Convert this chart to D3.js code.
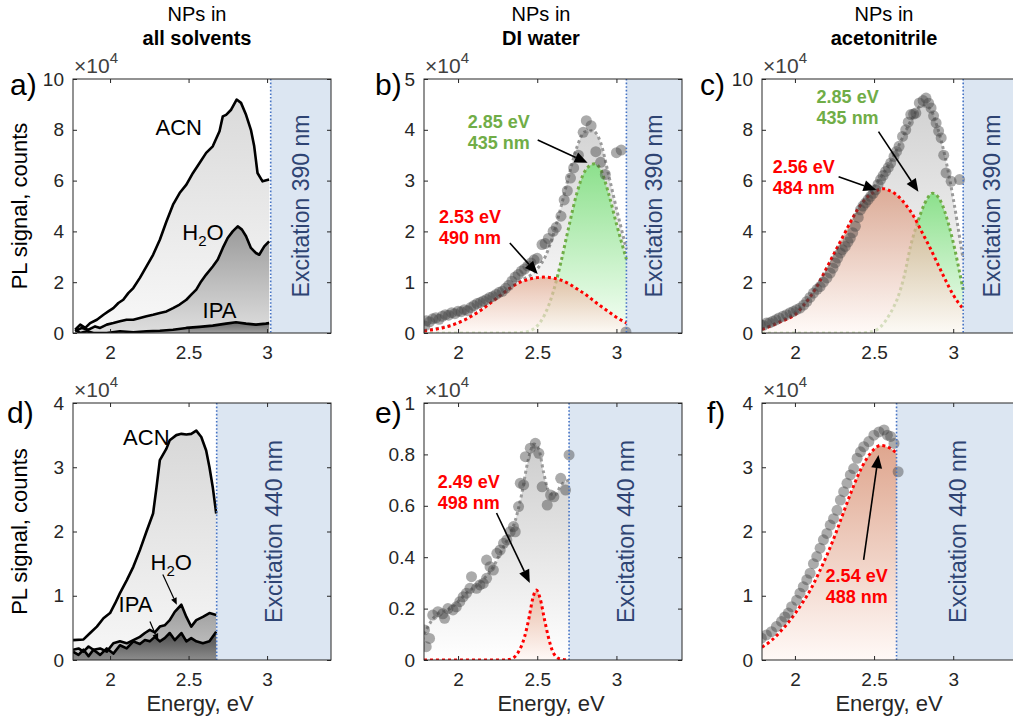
<!DOCTYPE html>
<html>
<head>
<meta charset="utf-8">
<script src="https://cdn.jsdelivr.net/npm/d3@7"></script>
<style>
  body { margin: 0; background: #fff; }
  text { font-family: "Liberation Sans", Arial, Helvetica, sans-serif; }
</style>
</head>
<body>
<script>
// PL spectra of NPs, 6 panels (a-f). Values in units of 1e4 counts.

// ---- panel a: all solvents, excitation 390 nm ----
const aAcnE = [1.778,1.81,1.842,1.873,1.916,1.958,1.989,2.021,2.053,2.084,2.116,2.148,2.19,2.232,2.274,2.317,2.359,2.401,2.443,2.486,2.528,2.57,2.612,2.654,2.697,2.718,2.739,2.771,2.806,2.834,2.866,2.897,2.918,2.939,2.971,3.013];
const aAcn  = [0.13,0.33,0.2,0.39,0.52,0.72,0.85,0.98,1.18,1.31,1.57,1.77,2.17,2.62,3.08,3.67,4.39,5.05,5.51,5.84,6.3,6.69,7.09,7.35,7.94,8.53,8.59,8.79,9.19,9.06,8.59,8.0,7.35,6.3,5.97,6.04];
const aH2oE = [1.778,1.82,1.863,1.905,1.937,1.979,2.021,2.063,2.105,2.148,2.19,2.232,2.274,2.317,2.359,2.401,2.443,2.486,2.517,2.549,2.58,2.612,2.654,2.686,2.718,2.749,2.781,2.813,2.84,2.866,2.897,2.929,2.95,2.982,3.013];
const aH2o  = [0.08,0.2,0.13,0.26,0.2,0.33,0.39,0.46,0.52,0.52,0.59,0.66,0.72,0.79,0.85,0.98,1.12,1.31,1.51,1.71,2.03,2.3,2.62,2.89,3.35,3.74,4.0,4.2,4.07,3.81,3.35,3.15,3.08,3.41,3.61];
const aIpaE = [1.778,1.81,1.852,1.895,1.979,2.063,2.148,2.232,2.317,2.401,2.486,2.57,2.654,2.739,2.802,2.866,2.929,2.992,3.013];
const aIpa  = [0.13,0,0.07,0,0,0.07,0.03,0.07,0.09,0.13,0.2,0.24,0.29,0.37,0.42,0.37,0.33,0.37,0.39];

// ---- panel d: all solvents, excitation 440 nm ----
const dAcnE = [1.764,1.831,1.873,1.916,1.958,2.0,2.032,2.063,2.106,2.148,2.19,2.232,2.274,2.296,2.317,2.359,2.38,2.422,2.454,2.486,2.517,2.549,2.581,2.612,2.633,2.654,2.676];
const dAcn  = [0.31,0.32,0.42,0.52,0.65,0.73,0.88,1.04,1.24,1.45,1.71,2.0,2.28,2.69,3.11,3.29,3.42,3.5,3.52,3.51,3.52,3.57,3.47,3.26,3.0,2.69,2.28];
const dE    = [1.764,1.799,1.831,1.863,1.894,1.937,1.979,2.021,2.063,2.106,2.148,2.19,2.222,2.253,2.285,2.317,2.348,2.38,2.412,2.454,2.486,2.517,2.549,2.591,2.633,2.676];
const dH2o  = [0.16,0.18,0.13,0.21,0.16,0.18,0.13,0.26,0.29,0.26,0.31,0.36,0.42,0.47,0.43,0.52,0.54,0.62,0.75,0.86,0.67,0.52,0.62,0.67,0.73,0.70];
const dIpa  = [0.13,0.08,0.16,0.06,0.16,0.08,0.18,0.10,0.23,0.18,0.29,0.25,0.31,0.29,0.36,0.29,0.34,0.42,0.31,0.42,0.29,0.34,0.29,0.26,0.29,0.44];

// ---- panel b: DI water, 390 nm ----
const bDataE = [1.79,1.80,1.82,1.84,1.86,1.88,1.90,1.92,1.94,1.96,1.98,2.00,2.02,2.04,2.06,2.08,2.10,2.12,2.14,2.16,2.18,2.20,2.22,2.24,2.26,2.28,2.30,2.32,2.34,2.36,2.38,2.40,2.42,2.44,2.46,2.48,2.50,2.53,2.55,2.57,2.60,2.62,2.65,2.67,2.69,2.71,2.73,2.76,2.79,2.81,2.84,2.87,2.90,2.93,3.00,3.03,3.06];
const bDataV = [0.14,0.24,0.22,0.28,0.30,0.27,0.33,0.36,0.35,0.40,0.38,0.43,0.42,0.46,0.44,0.50,0.54,0.58,0.60,0.63,0.66,0.70,0.72,0.76,0.80,0.82,0.88,0.94,1.02,1.10,1.15,1.22,1.26,1.32,1.38,1.44,1.47,1.74,1.76,1.86,2.00,2.08,2.30,2.62,2.80,3.05,3.25,3.50,3.95,4.18,4.08,3.57,3.36,3.12,3.55,3.60,0.02];
const bSumE = [1.785,1.90,2.00,2.10,2.20,2.30,2.40,2.50,2.55,2.60,2.65,2.70,2.75,2.80,2.85,2.90,2.95,3.00,3.063];
const bSumV = [0.05,0.11,0.2,0.36,0.58,0.82,1.03,1.26,1.5,1.92,2.48,3.1,3.65,3.96,3.98,3.75,3.12,2.45,1.65];
const bRedE = [1.785,1.85,1.90,1.95,2.00,2.05,2.10,2.15,2.20,2.25,2.30,2.35,2.40,2.45,2.50,2.54,2.60,2.65,2.70,2.75,2.80,2.85,2.90,2.95,3.00,3.063];
const bRedV = [0.04,0.07,0.10,0.14,0.20,0.27,0.36,0.46,0.58,0.70,0.82,0.93,1.01,1.06,1.09,1.10,1.08,1.04,0.97,0.87,0.77,0.65,0.53,0.42,0.31,0.2];
const bGreenE = [1.785,2.30,2.40,2.45,2.50,2.55,2.60,2.65,2.70,2.75,2.80,2.86,2.90,2.95,3.00,3.063];
const bGreenV = [0,0,0.01,0.04,0.14,0.38,0.80,1.40,2.10,2.75,3.18,3.33,3.22,2.75,2.15,1.45];

// ---- panel c: acetonitrile, 390 nm ----
const cDataE = [1.78,1.80,1.82,1.84,1.86,1.88,1.90,1.925,1.947,1.97,1.99,2.01,2.032,2.055,2.075,2.095,2.117,2.14,2.159,2.18,2.202,2.223,2.24,2.255,2.27,2.287,2.30,2.318,2.335,2.35,2.365,2.382,2.40,2.414,2.43,2.446,2.462,2.478,2.495,2.51,2.525,2.541,2.557,2.573,2.59,2.605,2.626,2.642,2.658,2.68,2.70,2.716,2.732,2.75,2.764,2.786,2.81,2.828,2.845,2.86,2.876,2.892,2.908,2.924,2.94,2.955,2.987,3.04];
const cDataV = [0.33,0.30,0.39,0.40,0.46,0.52,0.59,0.66,0.72,0.80,0.85,0.92,0.98,1.10,1.24,1.40,1.57,1.72,1.83,2.0,2.17,2.36,2.55,2.76,2.95,3.15,3.28,3.41,3.58,3.74,3.95,4.2,4.55,4.85,5.0,5.12,5.25,5.38,5.5,5.64,5.85,6.04,6.2,6.36,6.52,6.69,6.95,7.15,7.35,7.74,8.0,8.3,8.6,8.62,8.66,9.06,9.15,9.25,9.05,8.86,8.55,8.27,7.95,7.68,7.0,6.3,5.97,6.04];
const cSumE = [1.792,1.90,2.00,2.10,2.20,2.30,2.40,2.50,2.55,2.60,2.65,2.70,2.75,2.80,2.85,2.90,2.95,3.00,3.05,3.063];
const cSumV = [0.15,0.45,0.8,1.45,2.55,3.75,4.9,5.75,6.2,6.7,7.3,7.95,8.55,8.95,8.85,8.1,6.9,5.3,3.4,2.9];
const cRedE = [1.792,1.85,1.90,1.95,2.00,2.05,2.10,2.15,2.20,2.25,2.30,2.35,2.40,2.45,2.50,2.56,2.60,2.65,2.70,2.75,2.80,2.85,2.90,2.95,3.00,3.063];
const cRedV = [0.14,0.28,0.42,0.55,0.72,1.05,1.45,1.95,2.55,3.15,3.75,4.35,4.9,5.3,5.55,5.68,5.6,5.4,5.05,4.6,4.0,3.4,2.75,2.1,1.5,0.95];
const cGreenE = [1.792,2.40,2.45,2.50,2.55,2.60,2.65,2.69,2.73,2.775,2.82,2.87,2.92,2.97,3.01,3.04,3.063];
const cGreenV = [0,0,0.02,0.08,0.3,0.75,1.4,2.23,3.4,4.35,5.1,5.5,5.2,4.3,3.3,2.4,1.7];

// ---- panel e: DI water, 440 nm ----
const eDataE = [1.788,1.799,1.82,1.84,1.873,1.904,1.915,1.936,1.968,1.989,2.011,2.032,2.053,2.075,2.085,2.117,2.138,2.159,2.18,2.18,2.202,2.223,2.245,2.266,2.287,2.308,2.329,2.35,2.361,2.382,2.393,2.414,2.425,2.456,2.488,2.51,2.531,2.563,2.584,2.605,2.648,2.679,2.701];
const eDataV = [0.117,0.052,0.084,0.175,0.188,0.18,0.162,0.2,0.195,0.207,0.227,0.246,0.26,0.279,0.324,0.279,0.292,0.298,0.318,0.389,0.363,0.35,0.415,0.428,0.454,0.467,0.499,0.519,0.499,0.597,0.688,0.681,0.791,0.824,0.843,0.804,0.674,0.603,0.642,0.635,0.707,0.661,0.798];
const eSumE = [1.785,1.83,1.87,1.92,1.97,2.02,2.07,2.12,2.17,2.22,2.27,2.32,2.36,2.40,2.44,2.48,2.51,2.54,2.57,2.61,2.65,2.701];
const eSumV = [0.10,0.15,0.18,0.19,0.21,0.24,0.27,0.29,0.32,0.36,0.42,0.48,0.54,0.64,0.77,0.84,0.82,0.73,0.66,0.64,0.68,0.70];
const eRedE = [1.785,2.30,2.34,2.38,2.42,2.45,2.47,2.495,2.52,2.545,2.57,2.60,2.64,2.701];
const eRedV = [0,0,0.005,0.03,0.09,0.17,0.235,0.272,0.235,0.16,0.09,0.03,0.005,0];

// ---- panel f: acetonitrile, 440 nm ----
const fDataE = [1.788,1.82,1.852,1.883,1.915,1.936,1.958,1.979,2.011,2.032,2.053,2.075,2.096,2.117,2.138,2.159,2.18,2.202,2.223,2.244,2.266,2.287,2.308,2.329,2.35,2.371,2.393,2.414,2.435,2.467,2.499,2.531,2.563,2.584,2.605,2.626,2.652];
const fDataV = [0.34,0.39,0.44,0.52,0.6,0.67,0.73,0.83,0.93,1.04,1.14,1.25,1.35,1.5,1.61,1.74,1.87,1.97,2.1,2.2,2.33,2.49,2.62,2.75,2.88,2.98,3.14,3.24,3.32,3.4,3.5,3.55,3.58,3.5,3.48,3.37,2.93];
const fRedE = [1.792,1.85,1.90,1.95,2.00,2.05,2.10,2.15,2.20,2.25,2.30,2.35,2.40,2.45,2.50,2.54,2.60,2.642];
const fRedV = [0.2,0.3,0.42,0.56,0.72,0.9,1.1,1.35,1.62,1.92,2.25,2.58,2.88,3.12,3.28,3.34,3.3,3.22];

// tick values
const xTicks = [2, 2.5, 3];
const yTicks10 = [0, 2, 4, 6, 8, 10];
const yTicks5 = [0, 1, 2, 3, 4, 5];
const yTicks4 = [0, 1, 2, 3, 4];
const yTicks1 = [0, 0.2, 0.4, 0.6, 0.8, 1];

const columnTitles = ["all solvents", "DI water", "acetonitrile"];

const W = 1013, H = 723, BW = 258;
const RED = "#ff0000", GREEN = "#70ad47";

const svg = d3.select("body").append("svg")
  .attr("width", W).attr("height", H).style("display", "block");
const defs = svg.append("defs");

let gradCount = 0;
function grad(y1, y2, c1, c2) {
  const id = "grad" + (gradCount++);
  const lg = defs.append("linearGradient").attr("id", id)
    .attr("gradientUnits", "userSpaceOnUse")
    .attr("x1", 0).attr("x2", 0).attr("y1", y1).attr("y2", y2);
  lg.append("stop").attr("offset", 0).attr("stop-color", c1);
  lg.append("stop").attr("offset", 1).attr("stop-color", c2);
  return `url(#${id})`;
}

const zip = (E, V) => E.map((e, i) => [e, V[i]]);

function setup(o) {
  const x = d3.scaleLinear().domain(o.xdom).range([o.left, o.left + BW]);
  const y = d3.scaleLinear().domain([0, o.ymax]).range([o.top + o.h, o.top]);
  const g = svg.append("g");
  const cid = "clip-" + o.id;
  defs.append("clipPath").attr("id", cid).append("rect")
    .attr("x", o.left).attr("y", o.top).attr("width", BW).attr("height", o.h);
  const plot = g.append("g").attr("clip-path", `url(#${cid})`);
  plot.append("rect")
    .attr("x", x(o.exc)).attr("y", o.top)
    .attr("width", o.left + BW - x(o.exc)).attr("height", o.h)
    .attr("fill", "#dce6f2");
  return Object.assign({}, o, { x, y, g, plot });
}

function fill(p, pts, top, c1, c2, opacity) {
  const area = d3.area().x(d => p.x(d[0])).y0(p.y(0)).y1(d => p.y(d[1]))
    .curve(d3.curveMonotoneX);
  p.plot.append("path").attr("d", area(pts))
    .attr("fill", grad(p.y(top), p.y(0), c1, c2))
    .attr("fill-opacity", opacity == null ? 1 : opacity);
}

function line(p, pts, color, width, dash, curve) {
  const ln = d3.line().x(d => p.x(d[0])).y(d => p.y(d[1])).curve(curve || d3.curveMonotoneX);
  p.plot.append("path").attr("d", ln(pts))
    .attr("fill", "none").attr("stroke", color).attr("stroke-width", width)
    .attr("stroke-dasharray", dash || null)
    .attr("stroke-linejoin", "round");
}

function dots(p, pts) {
  p.plot.append("g").selectAll("circle").data(pts).join("circle")
    .attr("cx", d => p.x(d[0])).attr("cy", d => p.y(d[1]))
    .attr("r", 5.5).attr("fill", "#454545").attr("fill-opacity", 0.45);
}

function arrow(p, tail, tip, head, wid, sw) {
  const x1 = p.x(tail[0]), y1 = p.y(tail[1]), x2 = p.x(tip[0]), y2 = p.y(tip[1]);
  const a = Math.atan2(y2 - y1, x2 - x1);
  const bx = x2 - head * Math.cos(a), by = y2 - head * Math.sin(a);
  p.g.append("line").attr("x1", x1).attr("y1", y1).attr("x2", bx).attr("y2", by)
    .attr("stroke", "#000").attr("stroke-width", sw);
  const px = -Math.sin(a) * wid / 2, py = Math.cos(a) * wid / 2;
  p.g.append("path")
    .attr("d", `M${x2},${y2}L${bx + px},${by + py}L${bx - px},${by - py}Z`)
    .attr("fill", "#000");
}

function note(p, at, lines, color) {
  const t = p.g.append("text")
    .attr("x", p.x(at[0])).attr("y", p.y(at[1]))
    .attr("text-anchor", "middle").attr("font-size", 18).attr("font-weight", "bold")
    .attr("fill", color);
  lines.forEach((s, i) => t.append("tspan").attr("x", p.x(at[0])).attr("dy", i ? 21 : 0).text(s));
}

function label(p, at, txt, sub) {
  const t = p.g.append("text").attr("x", p.x(at[0])).attr("y", p.y(at[1]))
    .attr("text-anchor", "middle").attr("font-size", 22).attr("fill", "#000");
  if (sub) {
    t.append("tspan").text("H");
    t.append("tspan").attr("font-size", 15).attr("dy", 6).text("2");
    t.append("tspan").attr("dy", -6).text("O");
  } else t.text(txt);
}

function finish(p) {
  const g = p.g, x = p.x, y = p.y;
  const right = p.left + BW, bottom = p.top + p.h;
  // dotted excitation boundary
  g.append("line").attr("x1", x(p.exc)).attr("x2", x(p.exc))
    .attr("y1", p.top).attr("y2", bottom)
    .attr("stroke", "#4472c4").attr("stroke-width", 1.6).attr("stroke-dasharray", "1.6,2");
  g.append("text")
    .attr("transform", `translate(${(x(p.exc) + right) / 2 + 8},${p.top + p.h / 2}) rotate(-90)`)
    .attr("text-anchor", "middle").attr("font-size", 23).attr("fill", "#2e4473")
    .text(p.excText);

  const styleAxis = sel => {
    sel.attr("font-family", '"Liberation Sans", Arial, sans-serif')
      .attr("font-size", 19).attr("color", "#262626");
    sel.select(".domain").remove();
  };
  g.append("g").attr("transform", `translate(${p.left},0)`)
    .call(d3.axisLeft(y).tickValues(p.yticks).tickSizeInner(-4).tickSizeOuter(0)
      .tickPadding(9).tickFormat(d => String(d)))
    .call(styleAxis);
  g.append("g").attr("transform", `translate(${right},0)`)
    .call(d3.axisRight(y).tickValues(p.yticks).tickSizeInner(-4).tickSizeOuter(0).tickFormat(""))
    .call(styleAxis);
  g.append("g").attr("transform", `translate(0,${bottom})`)
    .call(d3.axisBottom(x).tickValues(xTicks).tickSizeInner(-4).tickSizeOuter(0)
      .tickPadding(13).tickFormat(d => String(d)))
    .call(styleAxis);
  g.append("g").attr("transform", `translate(0,${p.top})`)
    .call(d3.axisTop(x).tickValues(xTicks).tickSizeInner(-4).tickSizeOuter(0).tickFormat(""))
    .call(styleAxis);

  g.append("rect").attr("x", p.left).attr("y", p.top).attr("width", BW).attr("height", p.h)
    .attr("fill", "none").attr("stroke", "#262626").attr("stroke-width", 1);

  // x10^4 multiplier
  const m = g.append("text").attr("x", p.left + 1).attr("y", p.top - 6)
    .attr("font-size", 21).attr("fill", "#404040");
  m.append("tspan").text("\u00d710");
  m.append("tspan").attr("font-size", 15).attr("dy", -10).text("4");

  // panel letter
  g.append("text").attr("x", p.left + p.lx).attr("y", p.top + (p.row ? 20 : 16))
    .attr("font-size", 30).attr("fill", "#000").text(p.letter);
}

const cols = [73, 424, 762];
const rows = [{ top: 79, h: 254 }, { top: 403, h: 257 }];
const xdoms = [[1.764, 3.407], [1.785, 3.414], [1.792, 3.422]];

// ---------- panel a ----------
const pa = setup({ id: "a", letter: "a)", lx: -63, row: 0, left: cols[0], top: rows[0].top, h: rows[0].h,
  xdom: xdoms[0], ymax: 10, yticks: yTicks10, exc: 3.023, excText: "Excitation 390 nm" });
fill(pa, zip(aAcnE, aAcn), 9.2, "#dadada", "#f8f8f8");
fill(pa, zip(aH2oE, aH2o), 4.2, "#9a9a9a", "#dedede");
fill(pa, zip(aIpaE, aIpa), 0.45, "#666666", "#a0a0a0");
line(pa, zip(aAcnE, aAcn), "#000", 2.6, null, d3.curveLinear);
line(pa, zip(aH2oE, aH2o), "#000", 2.6, null, d3.curveLinear);
line(pa, zip(aIpaE, aIpa), "#000", 2.6, null, d3.curveLinear);
finish(pa);
label(pa, [2.437, 7.8], "ACN");
label(pa, [2.592, 3.66], "H2O", true);
label(pa, [2.697, 0.59], "IPA");

// ---------- panel b ----------
const pb = setup({ id: "b", letter: "b)", lx: -49, row: 0, left: cols[1], top: rows[0].top, h: rows[0].h,
  xdom: xdoms[1], ymax: 5, yticks: yTicks5, exc: 3.063, excText: "Excitation 390 nm" });
fill(pb, zip(bSumE, bSumV), 4.0, "#d4d4d4", "#ffffff");
line(pb, zip(bSumE, bSumV), "#9a9a9a", 3, "3,3");
fill(pb, zip(bGreenE, bGreenV), 3.33, "#8ce08c", "#f6fff6");
line(pb, zip(bGreenE, bGreenV), GREEN, 3, "3,3");
fill(pb, zip(bRedE, bRedV), 1.1, "#e2ac92", "#fff8f5", 0.72);
line(pb, zip(bRedE, bRedV), RED, 3, "3,3");
dots(pb, zip(bDataE, bDataV));
finish(pb);
note(pb, [2.257, 4.03], ["2.85 eV", "435 nm"], GREEN);
arrow(pb, [2.503, 3.80], [2.818, 3.35], 13, 11, 1.6);
note(pb, [2.075, 2.16], ["2.53 eV", "490 nm"], RED);
arrow(pb, [2.327, 1.77], [2.503, 1.16], 13, 11, 1.6);

// ---------- panel c ----------
const pc = setup({ id: "c", letter: "c)", lx: -62, row: 0, left: cols[2], top: rows[0].top, h: rows[0].h,
  xdom: xdoms[2], ymax: 10, yticks: yTicks10, exc: 3.063, excText: "Excitation 390 nm" });
fill(pc, zip(cSumE, cSumV), 9.0, "#d2d2d2", "#ffffff");
line(pc, zip(cSumE, cSumV), "#9a9a9a", 3, "3,3");
fill(pc, zip(cGreenE, cGreenV), 5.5, "#8ce08c", "#f6fff6");
line(pc, zip(cGreenE, cGreenV), GREEN, 3, "3,3");
fill(pc, zip(cRedE, cRedV), 5.68, "#d9967a", "#fff8f5", 0.72);
line(pc, zip(cRedE, cRedV), RED, 3, "3,3");
dots(pc, zip(cDataE, cDataV));
finish(pc);
note(pc, [2.333, 9.04], ["2.85 eV", "435 nm"], GREEN);
arrow(pc, [2.528, 7.93], [2.78, 5.56], 13, 11, 1.6);
note(pc, [2.056, 6.29], ["2.56 eV", "484 nm"], RED);
arrow(pc, [2.276, 6.15], [2.515, 5.63], 13, 11, 1.6);

// ---------- panel d ----------
const pd = setup({ id: "d", letter: "d)", lx: -66, row: 1, left: cols[0], top: rows[1].top, h: rows[1].h,
  xdom: xdoms[0], ymax: 4, yticks: yTicks4, exc: 2.679, excText: "Excitation 440 nm" });
fill(pd, zip(dAcnE, dAcn), 3.57, "#d8d8d8", "#f7f7f7");
fill(pd, zip(dE, dH2o), 0.86, "#9c9c9c", "#c8c8c8");
fill(pd, zip(dE, dIpa), 0.44, "#4a4a4a", "#8c8c8c");
line(pd, zip(dAcnE, dAcn), "#000", 2.6, null, d3.curveLinear);
line(pd, zip(dE, dH2o), "#000", 2.6, null, d3.curveLinear);
line(pd, zip(dE, dIpa), "#000", 2.6, null, d3.curveLinear);
finish(pd);
label(pd, [2.231, 3.35], "ACN");
label(pd, [2.39, 1.40], "H2O", true);
arrow(pd, [2.336, 1.33], [2.425, 0.86], 7, 6, 1.2);
label(pd, [2.162, 0.74], "IPA");
arrow(pd, [2.254, 0.60], [2.306, 0.30], 7, 6, 1.2);

// ---------- panel e ----------
const pe = setup({ id: "e", letter: "e)", lx: -49, row: 1, left: cols[1], top: rows[1].top, h: rows[1].h,
  xdom: xdoms[1], ymax: 1, yticks: yTicks1, exc: 2.701, excText: "Excitation 440 nm" });
fill(pe, zip(eSumE, eSumV), 0.84, "#cdcdcd", "#ffffff");
line(pe, zip(eSumE, eSumV), "#9a9a9a", 3, "3,3");
fill(pe, zip(eRedE, eRedV), 0.272, "#e6ae94", "#fff8f5", 0.8);
line(pe, zip(eRedE, eRedV), RED, 3, "3,3");
dots(pe, zip(eDataE, eDataV));
finish(pe);
note(pe, [2.068, 0.669], ["2.49 eV", "498 nm"], RED);
arrow(pe, [2.243, 0.572], [2.453, 0.30], 13, 11, 1.6);

// ---------- panel f ----------
const pf = setup({ id: "f", letter: "f)", lx: -55, row: 1, left: cols[2], top: rows[1].top, h: rows[1].h,
  xdom: xdoms[2], ymax: 4, yticks: yTicks4, exc: 2.642, excText: "Excitation 440 nm" });
fill(pf, zip(fRedE, fRedV), 3.34, "#d9967a", "#fff8f5", 0.85);
line(pf, zip(fRedE, fRedV), RED, 3, "3,3");
dots(pf, zip(fDataE, fDataV));
finish(pf);
note(pf, [2.39, 1.22], ["2.54 eV", "488 nm"], RED);
arrow(pf, [2.434, 1.56], [2.528, 3.19], 13, 11, 1.6);

// ---------- shared texts ----------
const titleX = [197, 541, 884];
columnTitles.forEach((t, i) => {
  const tt = svg.append("text").attr("x", titleX[i]).attr("y", 21)
    .attr("text-anchor", "middle").attr("font-size", 20).attr("fill", "#000");
  tt.append("tspan").attr("x", titleX[i]).text("NPs in");
  tt.append("tspan").attr("x", titleX[i]).attr("dy", 24).attr("font-weight", "bold").text(t);
});

rows.forEach(r => {
  svg.append("text")
    .attr("transform", `translate(27,${r.top + r.h / 2}) rotate(-90)`)
    .attr("text-anchor", "middle").attr("font-size", 22).attr("fill", "#000")
    .text("PL signal, counts");
});

[200, 551, 889].forEach(cx => {
  svg.append("text").attr("x", cx).attr("y", 711)
    .attr("text-anchor", "middle").attr("font-size", 22).attr("fill", "#262626")
    .text("Energy, eV");
});
</script>
</body>
</html>
